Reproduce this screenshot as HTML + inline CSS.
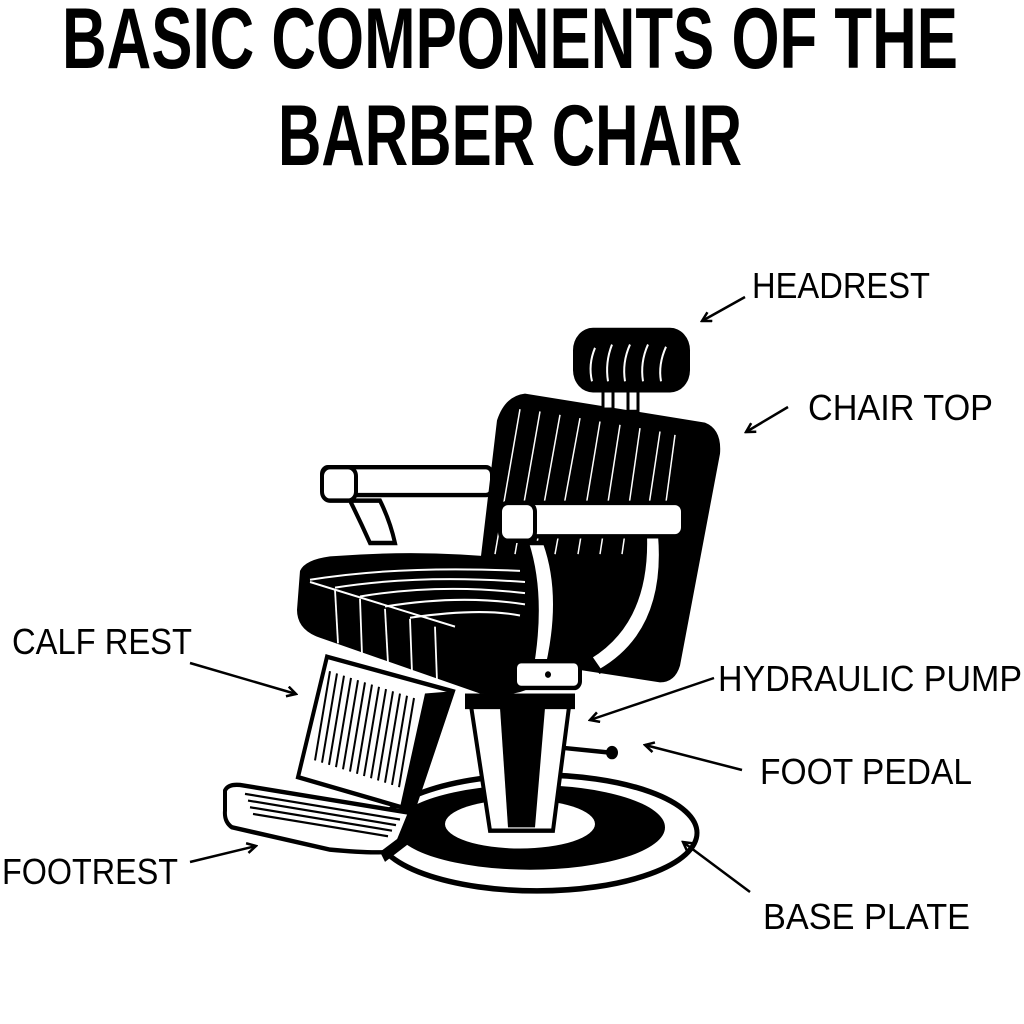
<!DOCTYPE html>
<html><head><meta charset="utf-8"><style>
html,body{margin:0;padding:0;background:#fff;}
svg{display:block;}
.t{font-family:"Liberation Sans Narrow","Liberation Sans",sans-serif;font-weight:bold;font-size:86px;fill:#000;}
.l{font-family:"Liberation Sans Narrow","Liberation Sans",sans-serif;font-size:36px;fill:#000;}
</style></head><body>
<svg width="1024" height="1024" viewBox="0 0 1024 1024" xmlns="http://www.w3.org/2000/svg">
<defs>
<marker id="ah" markerWidth="12" markerHeight="12" refX="10" refY="6" orient="auto" markerUnits="userSpaceOnUse">
<path d="M1,1 L10,6 L1,11" fill="none" stroke="#000" stroke-width="2.5"/>
</marker>
</defs>
<text class="t" x="62" y="68" textLength="896" lengthAdjust="spacingAndGlyphs">BASIC COMPONENTS OF THE</text>
<text class="t" x="278" y="165" textLength="464" lengthAdjust="spacingAndGlyphs">BARBER CHAIR</text>

<text class="l" x="752" y="298" textLength="178" lengthAdjust="spacingAndGlyphs">HEADREST</text>
<text class="l" x="808" y="420" textLength="185" lengthAdjust="spacingAndGlyphs">CHAIR TOP</text>
<text class="l" x="12" y="654" textLength="180" lengthAdjust="spacingAndGlyphs">CALF REST</text>
<text class="l" x="718" y="691" textLength="304" lengthAdjust="spacingAndGlyphs">HYDRAULIC PUMP</text>
<text class="l" x="760" y="784" textLength="212" lengthAdjust="spacingAndGlyphs">FOOT PEDAL</text>
<text class="l" x="2" y="884" textLength="176" lengthAdjust="spacingAndGlyphs">FOOTREST</text>
<text class="l" x="763" y="929" textLength="207" lengthAdjust="spacingAndGlyphs">BASE PLATE</text>

<g transform="matrix(1 0 0 1.115 0 -36.8)">
<!-- base plate -->
<ellipse cx="537" cy="780" rx="160" ry="52" fill="#fff" stroke="#000" stroke-width="5"/>
<ellipse cx="530" cy="775" rx="135" ry="38" fill="#000"/>
<ellipse cx="520" cy="772" rx="75" ry="22" fill="#fff"/>
<!-- pedal -->
<line x1="555" y1="703" x2="610" y2="708" stroke="#000" stroke-width="4"/>
<circle cx="612" cy="708" r="6" fill="#000"/>
<!-- pedestal -->
<path d="M470,660 L570,660 L553,778 L490,778 Z" fill="#fff" stroke="#000" stroke-width="4"/>
<path d="M500,668 L545,668 L535,775 L508,775 Z" fill="#000"/>
<rect x="465" y="655" width="110" height="14" fill="#000"/>

<!-- calf rest -->
<path d="M327,622 L453,653 L413,760 L298,730 Z" fill="#fff" stroke="#000" stroke-width="4"/>
<g stroke="#000" stroke-width="2">
<line x1="330" y1="635" x2="315" y2="715"/><line x1="337" y1="637" x2="322" y2="717"/><line x1="344" y1="639" x2="329" y2="719"/><line x1="351" y1="641" x2="336" y2="721"/><line x1="358" y1="643" x2="343" y2="723"/><line x1="365" y1="645" x2="350" y2="725"/><line x1="372" y1="647" x2="357" y2="727"/><line x1="379" y1="649" x2="364" y2="729"/><line x1="386" y1="651" x2="371" y2="731"/><line x1="393" y1="653" x2="378" y2="733"/><line x1="400" y1="655" x2="385" y2="735"/><line x1="407" y1="657" x2="392" y2="737"/><line x1="414" y1="659" x2="399" y2="739"/>
</g>
<path d="M425,655 L453,653 L413,760 L400,757 Z" fill="#000"/>

<!-- footrest -->
<path d="M225,742 Q228,736 240,737 L410,762 L395,795 Q390,800 330,795 L232,775 Q224,770 225,760 Z" fill="#fff" stroke="#000" stroke-width="4"/>
<g stroke="#000" stroke-width="2">
<line x1="245" y1="745" x2="400" y2="768"/><line x1="248" y1="751" x2="396" y2="773"/><line x1="250" y1="757" x2="392" y2="778"/><line x1="253" y1="763" x2="388" y2="783"/>
</g>
<path d="M380,797 L420,770 L430,775 L385,806 Z" fill="#000"/>

<!-- back armrest -->
<path d="M350,482 Q360,500 370,520 L395,520 Q390,500 380,482 Z" fill="#fff" stroke="#000" stroke-width="4"/>
<rect x="322" y="452" width="170" height="25" rx="6" fill="#fff" stroke="#000" stroke-width="4"/>
<rect x="322" y="452" width="34" height="30" rx="8" fill="#fff" stroke="#000" stroke-width="4"/>

<!-- backrest -->
<path d="M497,410 Q505,388 525,386 L705,412 Q722,418 720,440 L680,630 Q675,645 660,645 L480,620 Q468,615 472,600 Z" fill="#000"/>
<g stroke="#fff" stroke-width="1.5" fill="none">
<path d="M520,400 L495,530"/><path d="M540,402 L515,530"/><path d="M560,405 L535,530"/><path d="M580,408 L555,530"/><path d="M600,411 L578,530"/><path d="M620,414 L600,530"/><path d="M640,417 L622,530"/><path d="M660,420 L645,510"/><path d="M675,423 L665,490"/>
</g>

<!-- headrest -->
<rect x="603" y="380" width="10" height="20" fill="#fff" stroke="#000" stroke-width="3"/>
<rect x="628" y="382" width="10" height="20" fill="#fff" stroke="#000" stroke-width="3"/>
<rect x="573" y="327" width="117" height="58" rx="20" fill="#000"/>
<g stroke="#fff" stroke-width="2" fill="none">
<path d="M595,345 Q588,360 592,375"/><path d="M612,342 Q605,358 608,375"/><path d="M630,342 Q622,358 625,375"/><path d="M648,342 Q640,358 643,375"/><path d="M666,344 Q658,360 661,375"/>
</g>

<!-- seat -->
<path d="M300,545 Q305,535 330,532 Q430,525 520,535 Q560,540 560,560 L540,640 Q530,660 480,655 L320,605 Q297,598 297,580 Z" fill="#000"/>
<g stroke="#fff" stroke-width="1.8" fill="none">
<path d="M310,553 Q400,540 520,545"/><path d="M335,560 Q420,548 525,555"/><path d="M360,568 Q440,556 525,565"/><path d="M385,577 Q460,566 525,575"/><path d="M410,587 Q480,578 520,585"/>
<path d="M310,555 L455,595"/>
<path d="M335,562 L338,610"/><path d="M360,570 L362,620"/><path d="M385,579 L388,628"/><path d="M410,588 L412,636"/><path d="M435,595 L437,644"/>
</g>

<!-- front armrest support -->
<path d="M527,520 Q545,570 530,640 L545,640 Q565,570 545,520 Z" fill="#fff" stroke="#000" stroke-width="4"/>
<path d="M660,513 Q668,600 600,635 L590,622 Q648,590 645,513 Z" fill="#fff" stroke="#000" stroke-width="4"/>
<rect x="515" y="626" width="65" height="24" rx="6" fill="#fff" stroke="#000" stroke-width="4"/>
<circle cx="548" cy="638" r="3" fill="#000"/>
<rect x="500" y="484" width="183" height="30" rx="8" fill="#fff" stroke="#000" stroke-width="4"/>
<rect x="500" y="484" width="35" height="34" rx="8" fill="#fff" stroke="#000" stroke-width="4"/>
</g>

<g stroke="#000" stroke-width="2.5" fill="none" marker-end="url(#ah)">
<line x1="745" y1="297" x2="702" y2="321"/>
<line x1="788" y1="407" x2="746" y2="432"/>
<line x1="190" y1="663" x2="296" y2="694"/>
<line x1="714" y1="678" x2="590" y2="720"/>
<line x1="742" y1="770" x2="645" y2="745"/>
<line x1="190" y1="862" x2="256" y2="846"/>
<line x1="750" y1="892" x2="683" y2="842"/>
</g>
</svg>
</body></html>
